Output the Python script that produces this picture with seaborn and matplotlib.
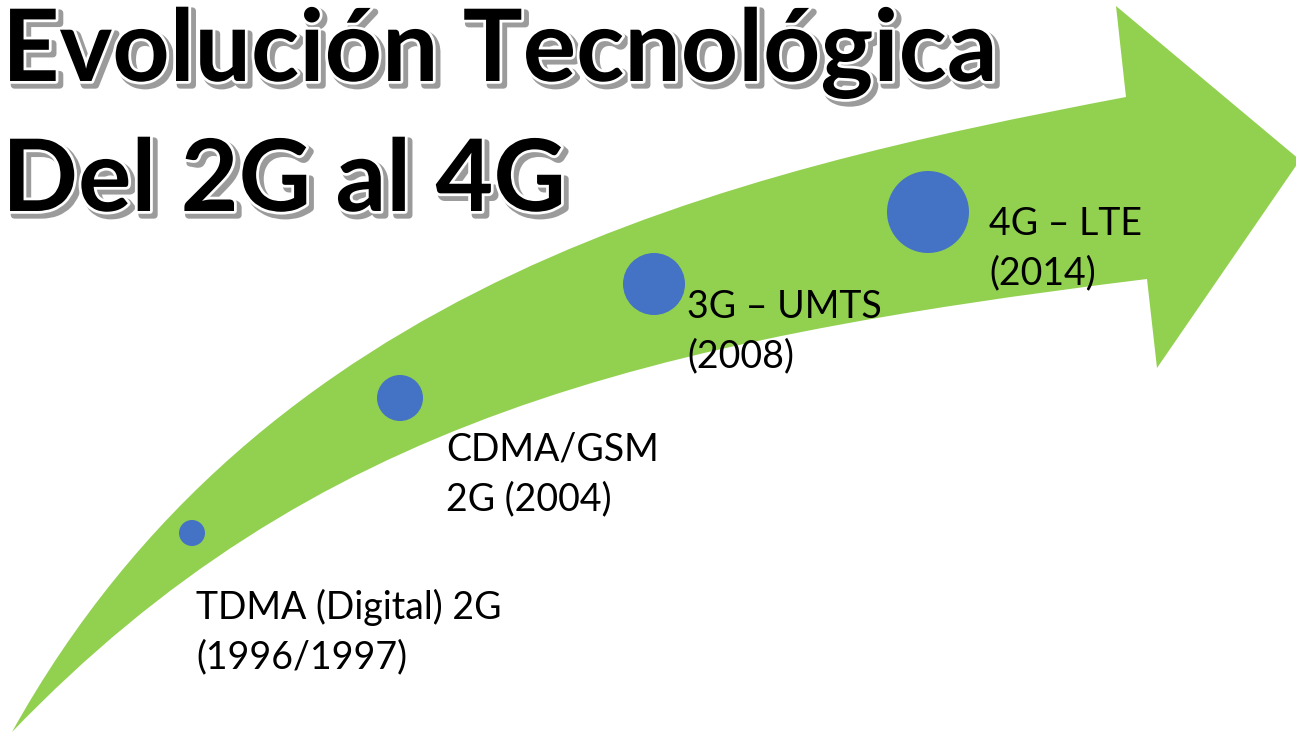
import matplotlib
matplotlib.use("Agg")
import matplotlib.pyplot as plt
import matplotlib.patheffects as pe
from matplotlib.path import Path
from matplotlib.patches import PathPatch
import pandas as pd
import seaborn as sns

# --- data -------------------------------------------------------------
title_lines = ["Evolución Tecnológica", "Del 2G al 4G"]
labels = ["TDMA (Digital) 2G\n(1996/1997)", "CDMA/GSM\n2G (2004)",
          "3G – UMTS\n(2008)", "4G – LTE\n(2014)"]
dot_x = [192, 400, 654, 928]
dot_y = [533, 398, 284, 212]
dot_r = [13, 23, 31, 41]
label_x = [196, 446, 687, 989]
label_y = [589, 432, 289, 206]

# arrow outline (pixel coords, y down): bezier edges + head
upper_edge = [(12, 732), (262, 282), (726, 173), (1126, 97)]
lower_edge = [(12, 732), (312, 420), (647, 341), (1147, 279)]
arrow_head = [(1126, 97), (1116, 6), (1300, 160), (1157, 368), (1147, 279)]

GREEN = "#92D050"
BLUE = "#4472C4"
DPI = 100

sns.set_theme(style="white")
plt.rcParams["font.family"] = ["Lato", "DejaVu Sans"]

fig = plt.figure(figsize=(12.96, 7.34), dpi=DPI)
ax = fig.add_axes([0, 0, 1, 1])

# green curved arrow
verts = list(upper_edge) + arrow_head[1:] + lower_edge[::-1][1:]
codes = ([Path.MOVETO] + [Path.CURVE4] * 3 + [Path.LINETO] * 4
         + [Path.CURVE4] * 3)
ax.add_patch(PathPatch(Path(verts, codes), facecolor=GREEN, edgecolor="none", zorder=1))

# milestone dots
df = pd.DataFrame({"x": dot_x, "y": dot_y, "r": dot_r})
sizes = [(2 * r * 72 / DPI) ** 2 for r in df["r"]]
sns.scatterplot(data=df, x="x", y="y", s=sizes, color=BLUE, linewidth=0,
                legend=False, ax=ax, zorder=3)
ax.set_xlim(0, 1296)
ax.set_ylim(734, 0)
ax.set_axis_off()

for lab, lx, ly in zip(labels, label_x, label_y):
    ax.text(lx, ly, lab, fontsize=27, color="black", ha="left", va="top",
            linespacing=1.45, zorder=4)

# title with white outline and grey shadow
effects = [pe.Stroke(linewidth=5, foreground="#9b9b9b", offset=(3, -3)),
           pe.Stroke(linewidth=4, foreground="white"),
           pe.Normal()]
title_y = [81, 211]
for line, ty in zip(title_lines, title_y):
    ax.text(2, ty, line, fontsize=72, fontweight="bold", color="black",
            ha="left", va="baseline", path_effects=effects, zorder=5)

fig.savefig("out.png", dpi=DPI)
